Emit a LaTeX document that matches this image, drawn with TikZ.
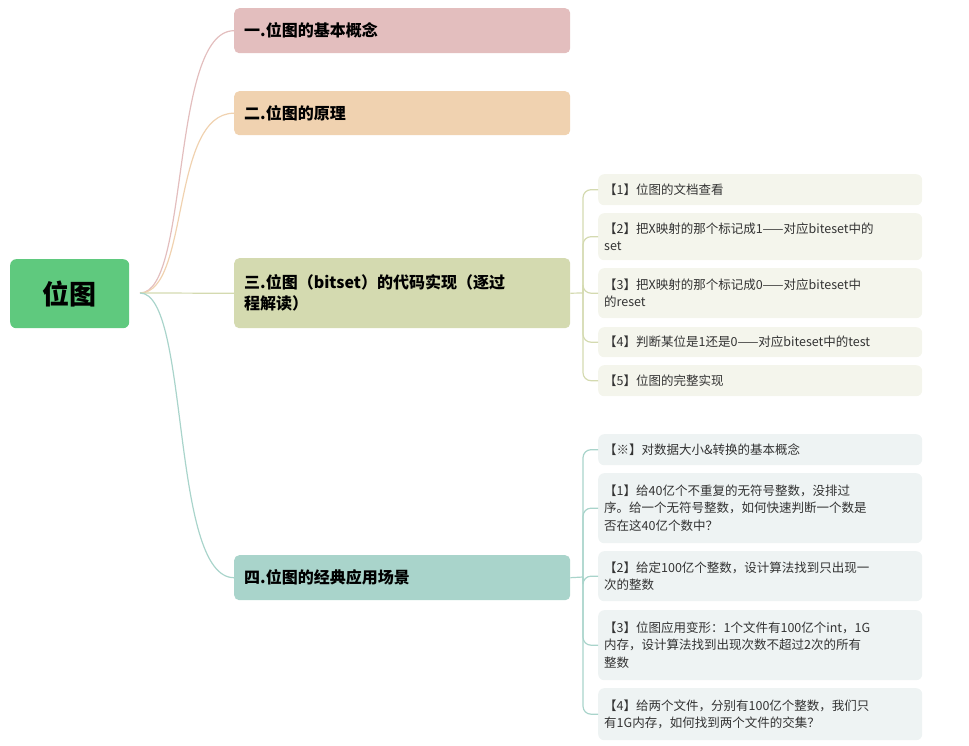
\documentclass[tikz,border=0pt]{standalone}
\usepackage{fontspec}
\setmainfont{Noto Sans CJK SC}
\begin{document}
\begin{tikzpicture}[x=1pt,y=-1pt,
  br/.style={rounded corners=5pt,minimum width=336pt,text width=316pt,align=left,anchor=north west,inner sep=0pt,font=\fontsize{16}{21}\selectfont\bfseries},
  leaf/.style={rounded corners=6pt,minimum width=324pt,text width=312pt,align=left,anchor=north west,inner sep=0pt,font=\fontsize{12.5}{17.5}\selectfont,text=black!80},
  lf3/.style={leaf,fill=c3l},
  lf4/.style={leaf,fill=c4l},
  con/.style={line width=1.2pt,rounded corners=8pt}]
\definecolor{c1}{HTML}{E3BEBE}
\definecolor{c2}{HTML}{F0D2B0}
\definecolor{c3}{HTML}{D4DAB0}
\definecolor{c4}{HTML}{A9D4CB}
\definecolor{c3l}{HTML}{F4F5EC}
\definecolor{c4l}{HTML}{EEF3F3}
\definecolor{cr}{HTML}{5FC97E}
\useasboundingbox (0,0) rectangle (969,746);
\node[fill=cr,rounded corners=6pt,minimum width=119pt,minimum height=69pt,anchor=north west,inner sep=0pt,font=\fontsize{27}{30}\selectfont\bfseries] (root) at (10,259) {位图};
\coordinate (rs) at (140,293);
\node[br,fill=c1,minimum height=45pt] (b1) at (234,8) {一.位图的基本概念};
\node[br,fill=c2,minimum height=44pt] (b2) at (234,91) {二.位图的原理};
\node[br,fill=c3,minimum height=70pt] (b3) at (234,258) {三.位图（bitset）的代码实现（逐过\\程解读）};
\node[br,fill=c4,minimum height=45pt] (b4) at (234,555) {四.位图的经典应用场景};
\foreach \b/\c in {b1/c1,b2/c2,b3/c3,b4/c4}
  \draw[line width=1.2pt,\c] (rs) .. controls (190,293) and (170,0|-\b.west) .. (\b.west);
% branch 3 leaves
\node[lf3,minimum height=31pt] (l31) at (598,174) {【1】位图的文档查看};
\node[lf3,minimum height=47pt] (l32) at (598,213) {【2】把X映射的那个标记成1——对应biteset中的\\set};
\node[lf3,minimum height=50pt] (l33) at (598,268) {【3】把X映射的那个标记成0——对应biteset中\\的reset};
\node[lf3,minimum height=30pt] (l34) at (598,327) {【4】判断某位是1还是0——对应biteset中的test};
\node[lf3,minimum height=31pt] (l35) at (598,365) {【5】位图的完整实现};
\coordinate (s3) at (583,293);
\draw[con,c3] (b3.east) -- (s3);
\foreach \l in {l31,l32,l33,l34,l35} \draw[con,c3] (s3) |- (\l.west);
% branch 4 leaves
\node[lf4,minimum height=31pt] (l40) at (598,434) {【※】对数据大小\&转换的基本概念};
\node[lf4,minimum height=70pt] (l41) at (598,473) {【1】给40亿个不重复的无符号整数，没排过\\序。给一个无符号整数，如何快速判断一个数是\\否在这40亿个数中？};
\node[lf4,minimum height=50pt] (l42) at (598,551) {【2】给定100亿个整数，设计算法找到只出现一\\次的整数};
\node[lf4,minimum height=70pt] (l43) at (598,610) {【3】位图应用变形：1个文件有100亿个int，1G\\内存，设计算法找到出现次数不超过2次的所有\\整数};
\node[lf4,minimum height=52pt] (l44) at (598,688) {【4】给两个文件，分别有100亿个整数，我们只\\有1G内存，如何找到两个文件的交集？};
\coordinate (s4) at (583,577);
\draw[con,c4] (b4.east) -- (s4);
\foreach \l in {l40,l41,l42,l43,l44} \draw[con,c4] (s4) |- (\l.west);
\end{tikzpicture}
\end{document}
